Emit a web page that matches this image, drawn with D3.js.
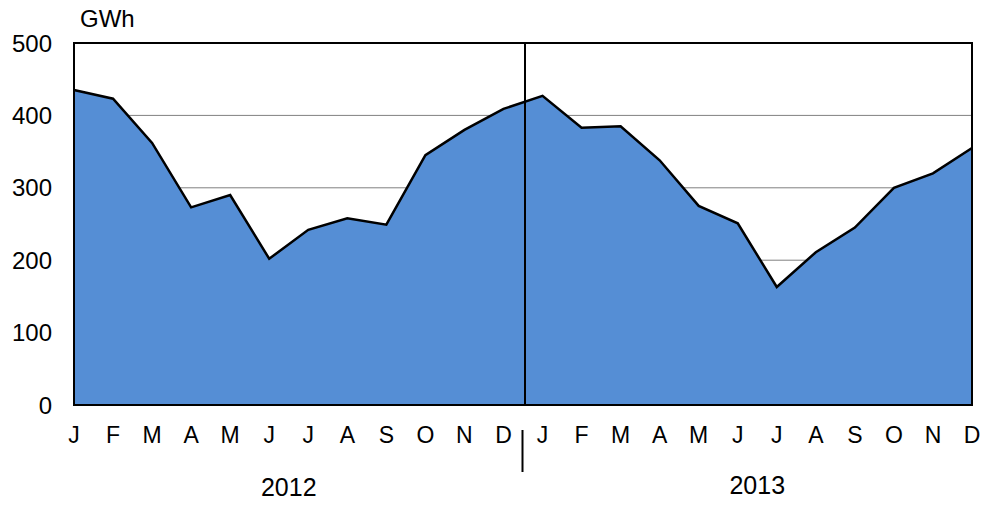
<!DOCTYPE html>
<html>
<head>
<meta charset="utf-8">
<script src="https://cdn.jsdelivr.net/npm/d3@7"></script>
<style>
  body { margin: 0; background: #fff; }
  text { font-family: Arial, "Liberation Sans", sans-serif; fill: #000; }
</style>
</head>
<body>
<svg id="chart" width="988" height="506"></svg>
<script>
// data
var months = ["J","F","M","A","M","J","J","A","S","O","N","D"];
var years = ["2012", "2013"];
var gwh2012 = [435, 423, 362, 273, 290, 202, 242, 258, 249, 345, 380, 409];
var gwh2013 = [427, 383, 385, 338, 275, 251, 163, 211, 245, 300, 320, 355];
var yTicks = [0, 100, 200, 300, 400, 500];

var values = gwh2012.concat(gwh2013); // 24 months in a row

var margin = {top: 43, right: 16, bottom: 101, left: 74};
var w = 988 - margin.left - margin.right;
var h = 506 - margin.top - margin.bottom;

var svg = d3.select("#chart");
var g = svg.append("g").attr("transform", "translate(" + margin.left + "," + margin.top + ")");

var x = d3.scaleLinear().domain([0, values.length - 1]).range([0, w]);
var y = d3.scaleLinear().domain([0, 500]).range([h, 0]);

// gridlines (behind the area)
g.selectAll(".grid").data(yTicks.slice(1, -1)).enter().append("line")
  .attr("x1", 0).attr("x2", w)
  .attr("y1", function(d){ return y(d); }).attr("y2", function(d){ return y(d); })
  .attr("stroke", "#808080").attr("stroke-width", 1);

var area = d3.area()
  .x(function(d, i){ return x(i); })
  .y0(h)
  .y1(function(d){ return y(d); });

var line = d3.line()
  .x(function(d, i){ return x(i); })
  .y(function(d){ return y(d); });

g.append("path").datum(values).attr("d", area).attr("fill", "#558ed5");
g.append("path").datum(values).attr("d", line)
  .attr("fill", "none").attr("stroke", "#000").attr("stroke-width", 2.5)
  .attr("stroke-linejoin", "miter");

// year divider
var split = x(months.length - 0.5) + 2;
g.append("line").attr("x1", split).attr("x2", split).attr("y1", 0).attr("y2", h)
  .attr("stroke", "#000").attr("stroke-width", 2);
g.append("line").attr("x1", split - 2.5).attr("x2", split - 2.5).attr("y1", h + 25).attr("y2", h + 67)
  .attr("stroke", "#000").attr("stroke-width", 2);

// frame
g.append("rect").attr("x", 0).attr("y", 0).attr("width", w).attr("height", h)
  .attr("fill", "none").attr("stroke", "#000").attr("stroke-width", 2);

// y axis labels
g.selectAll(".ylab").data(yTicks).enter().append("text")
  .attr("x", -22).attr("y", function(d){ return y(d); }).attr("dy", "0.36em")
  .attr("text-anchor", "end").attr("font-size", 24)
  .text(function(d){ return d; });

g.append("text").attr("x", 6).attr("y", -16).attr("font-size", 24).text("GWh");

// month labels
g.selectAll(".mlab").data(values).enter().append("text")
  .attr("x", function(d, i){ return x(i); }).attr("y", h + 38)
  .attr("text-anchor", "middle").attr("font-size", 23)
  .text(function(d, i){ return months[i % 12]; });

// year labels
g.selectAll(".ylabel").data(years).enter().append("text")
  .attr("x", function(d, i){ return (x(i * 12) + x(i * 12 + 11)) / 2; })
  .attr("y", function(d, i){ return h + 91 - i * 2; })
  .attr("text-anchor", "middle").attr("font-size", 25)
  .text(function(d){ return d; });
</script>
</body>
</html>
